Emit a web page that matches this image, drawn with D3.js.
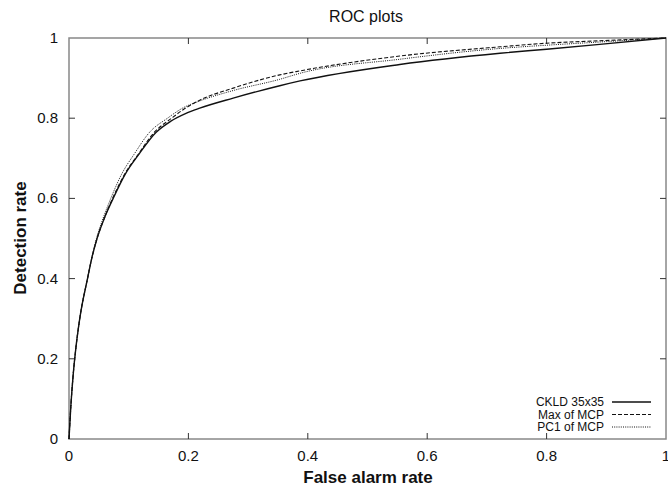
<!DOCTYPE html>
<meta charset="utf-8">
<script src="https://d3js.org/d3.v7.min.js"></script>
<style>
  body { margin: 0; background: #fff; }
  text { font-family: "Liberation Sans", Arial, sans-serif; fill: #111; }
</style>
<body>
<svg width="668" height="488"></svg>
<script>
    // ROC curves: [false alarm rate, detection rate]
    var ckld = [[0,0],[0.003,0.08],[0.007,0.16],[0.011,0.22],[0.018,0.3],[0.031,0.4],[0.038,0.45],[0.047,0.5],
                [0.059,0.55],[0.074,0.6],[0.094,0.66],[0.117,0.71],[0.146,0.765],[0.17,0.792],[0.196,0.812],
                [0.219,0.825],[0.275,0.85],[0.353,0.881],[0.387,0.893],[0.554,0.934],[0.722,0.962],
                [0.8,0.972],[0.889,0.984],[1,1]];
    var maxMcp = [[0,0],[0.003,0.08],[0.007,0.16],[0.011,0.22],[0.018,0.3],[0.031,0.4],[0.038,0.45],[0.047,0.5],
                [0.059,0.55],[0.073,0.6],[0.093,0.66],[0.116,0.71],[0.143,0.765],[0.172,0.8],[0.19,0.82],
                [0.219,0.845],[0.275,0.875],[0.353,0.908],[0.387,0.918],[0.554,0.955],[0.722,0.978],
                [0.8,0.987],[0.889,0.993],[1,1]];
    var pc1Mcp = [[0,0],[0.003,0.08],[0.007,0.16],[0.011,0.22],[0.018,0.3],[0.031,0.4],[0.038,0.45],[0.046,0.5],
                [0.057,0.55],[0.070,0.6],[0.088,0.66],[0.109,0.71],[0.135,0.765],[0.165,0.8],[0.19,0.825],
                [0.219,0.843],[0.275,0.869],[0.353,0.897],[0.387,0.912],[0.554,0.947],[0.722,0.974],
                [0.8,0.982],[0.889,0.99],[1,1]];

    var seriesNames = ["CKLD 35x35", "Max of MCP", "PC1 of MCP"];
    var xTicks = [0, 0.2, 0.4, 0.6, 0.8, 1];
    var yTicks = [0, 0.2, 0.4, 0.6, 0.8, 1];

    var series = [
        {name: seriesNames[0], values: ckld,   dash: null,    width: 1.4},
        {name: seriesNames[1], values: maxMcp, dash: "4,2",   width: 1.1},
        {name: seriesNames[2], values: pc1Mcp, dash: "1,1.2", width: 1.0}
    ];

    var svg = d3.select("svg");
    var pLeft = 69, pRight = 666, pTop = 38, pBottom = 439;

    var x = d3.scaleLinear().domain([0, 1]).range([pLeft, pRight]);
    var y = d3.scaleLinear().domain([0, 1]).range([pBottom, pTop]);

    /* ----------- frame + ticks ----------- */
    svg.append("rect")
        .attr("x", pLeft).attr("y", pTop)
        .attr("width", pRight - pLeft).attr("height", pBottom - pTop)
        .attr("fill", "none").attr("stroke", "#888").attr("stroke-width", 1.5);

    var tl = 6;
    var xInner = xTicks.filter(function(d){ return d > 0 && d < 1; });
    var yInner = yTicks.filter(function(d){ return d > 0 && d < 1; });
    var ticks = svg.append("g").attr("stroke", "#333").attr("stroke-width", 1);
    xInner.forEach(function(d){
        ticks.append("line").attr("x1", x(d)).attr("x2", x(d)).attr("y1", pBottom).attr("y2", pBottom - tl);
        ticks.append("line").attr("x1", x(d)).attr("x2", x(d)).attr("y1", pTop).attr("y2", pTop + tl);
    });
    yInner.forEach(function(d){
        ticks.append("line").attr("x1", pLeft).attr("x2", pLeft + tl).attr("y1", y(d)).attr("y2", y(d));
        ticks.append("line").attr("x1", pRight).attr("x2", pRight - tl).attr("y1", y(d)).attr("y2", y(d));
    });

    /* ----------- tick labels ----------- */
    svg.selectAll("text.xt").data(xTicks).enter().append("text")
        .attr("class", "xt")
        .attr("x", function(d){ return x(d); })
        .attr("y", 461)
        .attr("text-anchor", "middle")
        .style("font-size", "15px")
        .text(function(d){ return d; });

    svg.selectAll("text.yt").data(yTicks).enter().append("text")
        .attr("class", "yt")
        .attr("x", 58)
        .attr("y", function(d){ return y(d) + 5; })
        .attr("text-anchor", "end")
        .style("font-size", "15px")
        .text(function(d){ return d; });

    /* ----------- titles ----------- */
    svg.append("text").attr("x", 366).attr("y", 22).attr("text-anchor", "middle")
        .style("font-size", "16px").text("ROC plots");
    svg.append("text").attr("x", 368).attr("y", 483).attr("text-anchor", "middle")
        .style("font-size", "17px").style("font-weight", "bold").text("False alarm rate");
    svg.append("text").attr("transform", "translate(26,238) rotate(-90)").attr("text-anchor", "middle")
        .style("font-size", "17px").style("font-weight", "bold").text("Detection rate");

    /* ----------- curves ----------- */
    var line = d3.line()
        .x(function(d){ return x(d[0]); })
        .y(function(d){ return y(d[1]); })
        .curve(d3.curveMonotoneX);

    svg.selectAll("path.roc").data(series).enter().append("path")
        .attr("class", "roc")
        .attr("fill", "none")
        .attr("stroke", "#111")
        .attr("stroke-width", function(d){ return d.width; })
        .attr("stroke-dasharray", function(d){ return d.dash; })
        .attr("d", function(d){ return line(d.values); });

    /* ----------- legend ----------- */
    var leg = svg.selectAll("g.leg").data(series).enter().append("g")
        .attr("class", "leg")
        .attr("transform", function(d, i){ return "translate(0," + (406 + i * 12.5) + ")"; });
    leg.append("text").attr("x", 604).attr("y", 0).attr("text-anchor", "end")
        .style("font-size", "12px").text(function(d){ return d.name; });
    leg.append("line").attr("x1", 612).attr("x2", 651).attr("y1", -4).attr("y2", -4)
        .attr("stroke", "#111")
        .attr("stroke-width", function(d){ return d.width; })
        .attr("stroke-dasharray", function(d){ return d.dash; });
</script>
</body>
